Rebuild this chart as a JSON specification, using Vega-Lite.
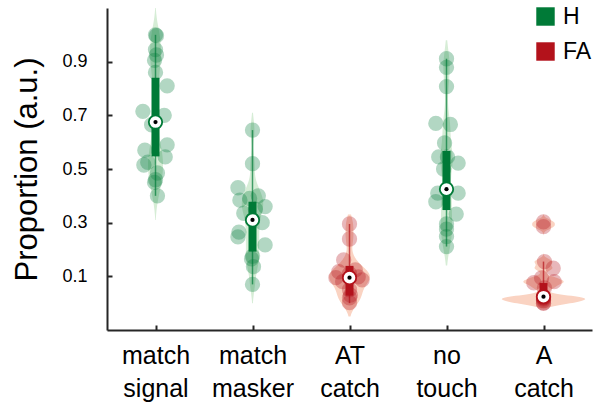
{
  "$schema": "https://vega.github.io/schema/vega-lite/v6.json",
  "width": 485,
  "height": 322,
  "autosize": {"type": "none"},
  "padding": {"left": 107, "top": 8, "right": 1, "bottom": 78},
  "config": {
    "view": {"stroke": null},
    "font": "Liberation Sans",
    "axis": {
      "grid": false,
      "domainColor": "#262626",
      "domainWidth": 2,
      "tickColor": "#262626",
      "tickWidth": 2,
      "tickSize": -5,
      "labelColor": "#000000",
      "titleColor": "#000000",
      "labelFont": "Liberation Sans",
      "titleFont": "Liberation Sans",
      "titleFontWeight": "normal"
    }
  },
  "datasets": {
    "pts": [
      {"cond": "match signal", "idx": 1, "type": "H", "v": 1.0, "jitter": 0},
      {"cond": "match signal", "idx": 1, "type": "H", "v": 0.997, "jitter": 0.01},
      {"cond": "match signal", "idx": 1, "type": "H", "v": 0.945, "jitter": 0},
      {"cond": "match signal", "idx": 1, "type": "H", "v": 0.925, "jitter": 0.01},
      {"cond": "match signal", "idx": 1, "type": "H", "v": 0.905, "jitter": -0.01},
      {"cond": "match signal", "idx": 1, "type": "H", "v": 0.86, "jitter": 0},
      {"cond": "match signal", "idx": 1, "type": "H", "v": 0.81, "jitter": 0.12},
      {"cond": "match signal", "idx": 1, "type": "H", "v": 0.715, "jitter": -0.13},
      {"cond": "match signal", "idx": 1, "type": "H", "v": 0.70, "jitter": 0.09},
      {"cond": "match signal", "idx": 1, "type": "H", "v": 0.665, "jitter": -0.04},
      {"cond": "match signal", "idx": 1, "type": "H", "v": 0.59, "jitter": 0.12},
      {"cond": "match signal", "idx": 1, "type": "H", "v": 0.57, "jitter": -0.11},
      {"cond": "match signal", "idx": 1, "type": "H", "v": 0.545, "jitter": 0.10},
      {"cond": "match signal", "idx": 1, "type": "H", "v": 0.525, "jitter": -0.08},
      {"cond": "match signal", "idx": 1, "type": "H", "v": 0.515, "jitter": -0.12},
      {"cond": "match signal", "idx": 1, "type": "H", "v": 0.485, "jitter": 0.02},
      {"cond": "match signal", "idx": 1, "type": "H", "v": 0.46, "jitter": 0},
      {"cond": "match signal", "idx": 1, "type": "H", "v": 0.45, "jitter": -0.01},
      {"cond": "match signal", "idx": 1, "type": "H", "v": 0.40, "jitter": 0.02},
      {"cond": "match masker", "idx": 2, "type": "H", "v": 0.645, "jitter": 0},
      {"cond": "match masker", "idx": 2, "type": "H", "v": 0.52, "jitter": 0},
      {"cond": "match masker", "idx": 2, "type": "H", "v": 0.43, "jitter": -0.15},
      {"cond": "match masker", "idx": 2, "type": "H", "v": 0.40, "jitter": 0.06},
      {"cond": "match masker", "idx": 2, "type": "H", "v": 0.384, "jitter": -0.13},
      {"cond": "match masker", "idx": 2, "type": "H", "v": 0.39, "jitter": -0.03},
      {"cond": "match masker", "idx": 2, "type": "H", "v": 0.36, "jitter": 0.13},
      {"cond": "match masker", "idx": 2, "type": "H", "v": 0.35, "jitter": 0.03},
      {"cond": "match masker", "idx": 2, "type": "H", "v": 0.335, "jitter": -0.09},
      {"cond": "match masker", "idx": 2, "type": "H", "v": 0.30, "jitter": 0.10},
      {"cond": "match masker", "idx": 2, "type": "H", "v": 0.265, "jitter": -0.14},
      {"cond": "match masker", "idx": 2, "type": "H", "v": 0.247, "jitter": -0.15},
      {"cond": "match masker", "idx": 2, "type": "H", "v": 0.217, "jitter": 0.13},
      {"cond": "match masker", "idx": 2, "type": "H", "v": 0.175, "jitter": 0},
      {"cond": "match masker", "idx": 2, "type": "H", "v": 0.165, "jitter": -0.01},
      {"cond": "match masker", "idx": 2, "type": "H", "v": 0.136, "jitter": 0.01},
      {"cond": "match masker", "idx": 2, "type": "H", "v": 0.07, "jitter": 0},
      {"cond": "AT catch", "idx": 3, "type": "FA", "v": 0.295, "jitter": 0},
      {"cond": "AT catch", "idx": 3, "type": "FA", "v": 0.239, "jitter": 0},
      {"cond": "AT catch", "idx": 3, "type": "FA", "v": 0.161, "jitter": -0.06},
      {"cond": "AT catch", "idx": 3, "type": "FA", "v": 0.124, "jitter": 0.06},
      {"cond": "AT catch", "idx": 3, "type": "FA", "v": 0.117, "jitter": -0.11},
      {"cond": "AT catch", "idx": 3, "type": "FA", "v": 0.11, "jitter": 0},
      {"cond": "AT catch", "idx": 3, "type": "FA", "v": 0.098, "jitter": 0.09},
      {"cond": "AT catch", "idx": 3, "type": "FA", "v": 0.095, "jitter": -0.14},
      {"cond": "AT catch", "idx": 3, "type": "FA", "v": 0.087, "jitter": 0.13},
      {"cond": "AT catch", "idx": 3, "type": "FA", "v": 0.08, "jitter": -0.07},
      {"cond": "AT catch", "idx": 3, "type": "FA", "v": 0.05, "jitter": 0},
      {"cond": "AT catch", "idx": 3, "type": "FA", "v": 0.03, "jitter": 0.01},
      {"cond": "AT catch", "idx": 3, "type": "FA", "v": 0.02, "jitter": 0},
      {"cond": "AT catch", "idx": 3, "type": "FA", "v": 0.002, "jitter": 0},
      {"cond": "no touch", "idx": 4, "type": "H", "v": 0.911, "jitter": 0},
      {"cond": "no touch", "idx": 4, "type": "H", "v": 0.879, "jitter": 0},
      {"cond": "no touch", "idx": 4, "type": "H", "v": 0.807, "jitter": 0},
      {"cond": "no touch", "idx": 4, "type": "H", "v": 0.67, "jitter": -0.11},
      {"cond": "no touch", "idx": 4, "type": "H", "v": 0.666, "jitter": 0.04},
      {"cond": "no touch", "idx": 4, "type": "H", "v": 0.597, "jitter": -0.02},
      {"cond": "no touch", "idx": 4, "type": "H", "v": 0.545, "jitter": -0.08},
      {"cond": "no touch", "idx": 4, "type": "H", "v": 0.545, "jitter": 0.01},
      {"cond": "no touch", "idx": 4, "type": "H", "v": 0.522, "jitter": 0.12},
      {"cond": "no touch", "idx": 4, "type": "H", "v": 0.50, "jitter": -0.03},
      {"cond": "no touch", "idx": 4, "type": "H", "v": 0.41, "jitter": -0.09},
      {"cond": "no touch", "idx": 4, "type": "H", "v": 0.41, "jitter": 0.12},
      {"cond": "no touch", "idx": 4, "type": "H", "v": 0.378, "jitter": -0.11},
      {"cond": "no touch", "idx": 4, "type": "H", "v": 0.332, "jitter": 0.10},
      {"cond": "no touch", "idx": 4, "type": "H", "v": 0.295, "jitter": 0},
      {"cond": "no touch", "idx": 4, "type": "H", "v": 0.276, "jitter": 0},
      {"cond": "no touch", "idx": 4, "type": "H", "v": 0.248, "jitter": 0},
      {"cond": "no touch", "idx": 4, "type": "H", "v": 0.211, "jitter": 0},
      {"cond": "A catch", "idx": 5, "type": "FA", "v": 0.303, "jitter": 0},
      {"cond": "A catch", "idx": 5, "type": "FA", "v": 0.285, "jitter": 0},
      {"cond": "A catch", "idx": 5, "type": "FA", "v": 0.155, "jitter": 0.01},
      {"cond": "A catch", "idx": 5, "type": "FA", "v": 0.13, "jitter": 0.10},
      {"cond": "A catch", "idx": 5, "type": "FA", "v": 0.094, "jitter": -0.02},
      {"cond": "A catch", "idx": 5, "type": "FA", "v": 0.08, "jitter": 0.11},
      {"cond": "A catch", "idx": 5, "type": "FA", "v": 0.076, "jitter": -0.10},
      {"cond": "A catch", "idx": 5, "type": "FA", "v": 0.057, "jitter": 0.01},
      {"cond": "A catch", "idx": 5, "type": "FA", "v": 0.025, "jitter": 0},
      {"cond": "A catch", "idx": 5, "type": "FA", "v": 0.02, "jitter": 0},
      {"cond": "A catch", "idx": 5, "type": "FA", "v": 0.02, "jitter": 0},
      {"cond": "A catch", "idx": 5, "type": "FA", "v": 0.015, "jitter": 0},
      {"cond": "A catch", "idx": 5, "type": "FA", "v": 0.01, "jitter": 0},
      {"cond": "A catch", "idx": 5, "type": "FA", "v": 0.0, "jitter": 0},
      {"cond": "A catch", "idx": 5, "type": "FA", "v": 0.0, "jitter": 0}
    ],
    "stats": [
      {"cond": "match signal", "idx": 1, "type": "H", "wmin": 0.40, "q1": 0.547, "med": 0.675, "q3": 0.84, "wmax": 1.0},
      {"cond": "match masker", "idx": 2, "type": "H", "wmin": 0.07, "q1": 0.192, "med": 0.31, "q3": 0.378, "wmax": 0.645},
      {"cond": "AT catch", "idx": 3, "type": "FA", "wmin": 0.0, "q1": 0.028, "med": 0.095, "q3": 0.139, "wmax": 0.295},
      {"cond": "no touch", "idx": 4, "type": "H", "wmin": 0.211, "q1": 0.347, "med": 0.425, "q3": 0.567, "wmax": 0.911},
      {"cond": "A catch", "idx": 5, "type": "FA", "wmin": 0.0, "q1": 0.0, "med": 0.024, "q3": 0.075, "wmax": 0.155}
    ]
  },
  "layer": [
    {
      "data": {"name": "pts"},
      "transform": [
        {"filter": "datum.idx == 1"},
        {"density": "v", "bandwidth": 0.05, "extent": [0.31, 1.1], "groupby": ["idx"], "steps": 150, "as": ["v", "density"]},
        {"calculate": "datum.idx - 0.033 * datum.density", "as": "lo"},
        {"calculate": "datum.idx + 0.033 * datum.density", "as": "hi"}
      ],
      "mark": {"type": "area", "orient": "horizontal", "color": "#d6edd6"},
      "encoding": {
        "y": {"field": "v", "type": "quantitative", "title": "Proportion (a.u.)",
              "scale": {"domain": [-0.1, 1.1], "nice": false, "zero": false},
              "axis": {"values": [0.1, 0.3, 0.5, 0.7, 0.9], "format": ".1f", "labelFontSize": 18, "labelPadding": 25, "titleFontSize": 31, "titlePadding": 18}},
        "x": {"field": "lo", "type": "quantitative", "title": null,
              "scale": {"domain": [0.5, 5.5], "nice": false, "zero": false},
              "axis": {"values": [1, 2, 3, 4, 5], "labelFontSize": 25, "labelLineHeight": 33, "labelPadding": 18,
                       "labelExpr": "datum.value == 1 ? ['match', 'signal'] : datum.value == 2 ? ['match', 'masker'] : datum.value == 3 ? ['AT', 'catch'] : datum.value == 4 ? ['no', 'touch'] : ['A', 'catch']"}},
        "x2": {"field": "hi"}
      }
    },
    {
      "data": {"name": "pts"},
      "transform": [
        {"filter": "datum.idx == 2"},
        {"density": "v", "bandwidth": 0.04, "extent": [0.0, 0.71], "groupby": ["idx"], "steps": 150, "as": ["v", "density"]},
        {"calculate": "datum.idx - 0.033 * datum.density", "as": "lo"},
        {"calculate": "datum.idx + 0.033 * datum.density", "as": "hi"}
      ],
      "mark": {"type": "area", "orient": "horizontal", "color": "#d6edd6"},
      "encoding": {
        "y": {"field": "v", "type": "quantitative", "title": "Proportion (a.u.)"},
        "x": {"field": "lo", "type": "quantitative", "title": null},
        "x2": {"field": "hi"}
      }
    },
    {
      "data": {"name": "pts"},
      "transform": [
        {"filter": "datum.idx == 3"},
        {"density": "v", "bandwidth": 0.03, "extent": [-0.05, 0.33], "groupby": ["idx"], "steps": 150, "as": ["v", "density"]},
        {"calculate": "datum.idx - 0.033 * datum.density", "as": "lo"},
        {"calculate": "datum.idx + 0.033 * datum.density", "as": "hi"}
      ],
      "mark": {"type": "area", "orient": "horizontal", "color": "#fad3c2"},
      "encoding": {
        "y": {"field": "v", "type": "quantitative", "title": "Proportion (a.u.)"},
        "x": {"field": "lo", "type": "quantitative", "title": null},
        "x2": {"field": "hi"}
      }
    },
    {
      "data": {"name": "pts"},
      "transform": [
        {"filter": "datum.idx == 4"},
        {"density": "v", "bandwidth": 0.05, "extent": [0.14, 0.98], "groupby": ["idx"], "steps": 150, "as": ["v", "density"]},
        {"calculate": "datum.idx - 0.033 * datum.density", "as": "lo"},
        {"calculate": "datum.idx + 0.033 * datum.density", "as": "hi"}
      ],
      "mark": {"type": "area", "orient": "horizontal", "color": "#d6edd6"},
      "encoding": {
        "y": {"field": "v", "type": "quantitative", "title": "Proportion (a.u.)"},
        "x": {"field": "lo", "type": "quantitative", "title": null},
        "x2": {"field": "hi"}
      }
    },
    {
      "data": {"name": "pts"},
      "transform": [
        {"filter": "datum.idx == 5"},
        {"density": "v", "bandwidth": 0.01, "extent": [-0.02, 0.33], "groupby": ["idx"], "steps": 200, "as": ["v", "density"]},
        {"calculate": "datum.idx - 0.033 * datum.density", "as": "lo"},
        {"calculate": "datum.idx + 0.033 * datum.density", "as": "hi"}
      ],
      "mark": {"type": "area", "orient": "horizontal", "color": "#fad3c2"},
      "encoding": {
        "y": {"field": "v", "type": "quantitative", "title": "Proportion (a.u.)"},
        "x": {"field": "lo", "type": "quantitative", "title": null},
        "x2": {"field": "hi"}
      }
    },
    {
      "data": {"name": "stats"},
      "mark": {"type": "rule", "strokeWidth": 1.5, "opacity": 0.7},
      "encoding": {
        "x": {"field": "idx", "type": "quantitative", "title": null},
        "y": {"field": "wmin", "type": "quantitative", "title": "Proportion (a.u.)"},
        "y2": {"field": "wmax"},
        "color": {"condition": {"test": "datum.type === 'H'", "value": "#007a37"}, "value": "#b3121b"}
      }
    },
    {
      "data": {"name": "pts"},
      "transform": [{"calculate": "datum.idx + datum.jitter", "as": "xp"}],
      "mark": {"type": "circle", "size": 235, "opacity": 0.3},
      "encoding": {
        "x": {"field": "xp", "type": "quantitative", "title": null},
        "y": {"field": "v", "type": "quantitative", "title": "Proportion (a.u.)"},
        "color": {"field": "type", "type": "nominal",
                  "scale": {"domain": ["H", "FA"], "range": ["#007a37", "#b3121b"]},
                  "legend": {"title": null, "orient": "none", "legendX": 427, "legendY": -3,
                             "symbolType": "square", "symbolSize": 340, "symbolOpacity": 1, "symbolStrokeWidth": 0,
                             "labelFontSize": 23, "labelFont": "Liberation Sans", "labelColor": "#000000",
                             "labelOffset": 6, "rowPadding": 11, "padding": 0}}
      }
    },
    {
      "data": {"name": "stats"},
      "mark": {"type": "rule", "strokeWidth": 8, "strokeCap": "butt"},
      "encoding": {
        "x": {"field": "idx", "type": "quantitative", "title": null},
        "y": {"field": "q1", "type": "quantitative", "title": "Proportion (a.u.)"},
        "y2": {"field": "q3"},
        "color": {"condition": {"test": "datum.type === 'H'", "value": "#007a37"}, "value": "#b3121b"}
      }
    },
    {
      "data": {"name": "stats"},
      "mark": {"type": "point", "shape": "circle", "filled": true, "fill": "#ffffff", "size": 180, "strokeWidth": 1.8, "opacity": 1},
      "encoding": {
        "x": {"field": "idx", "type": "quantitative", "title": null},
        "y": {"field": "med", "type": "quantitative", "title": "Proportion (a.u.)"},
        "stroke": {"condition": {"test": "datum.type === 'H'", "value": "#007a37"}, "value": "#b3121b"}
      }
    },
    {
      "data": {"name": "stats"},
      "mark": {"type": "circle", "color": "#000000", "size": 18, "opacity": 1},
      "encoding": {
        "x": {"field": "idx", "type": "quantitative", "title": null},
        "y": {"field": "med", "type": "quantitative", "title": "Proportion (a.u.)"}
      }
    }
  ]
}
